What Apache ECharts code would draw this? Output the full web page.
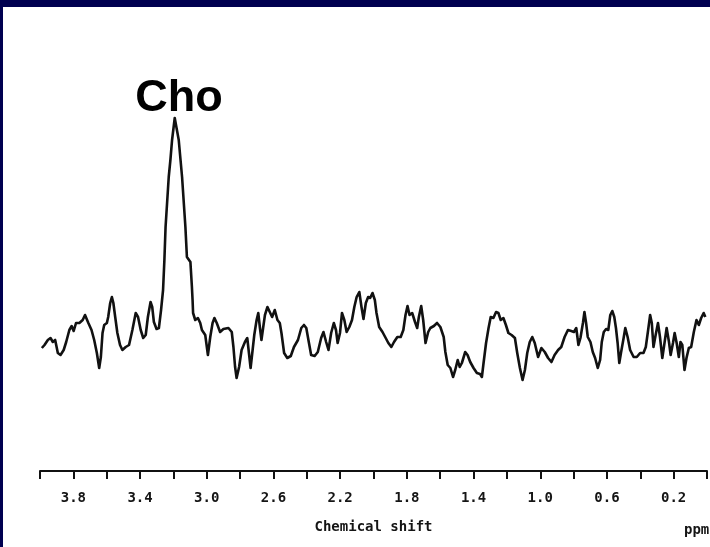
<!DOCTYPE html>
<html>
<head>
<meta charset="utf-8">
<script src="https://cdn.jsdelivr.net/npm/echarts@6/dist/echarts.min.js"></script>
<style>
  html, body { margin: 0; padding: 0; background: #ffffff; }
  #chart { width: 710px; height: 547px; }
</style>
</head>
<body>
<div id="chart"></div>
<script>
// Proton MR spectrum: chemical shift (ppm) vs. signal intensity (a.u.)
const shiftPpm = [
  3.989, 3.973, 3.953, 3.937, 3.923, 3.909, 3.893, 3.877, 3.858, 3.843,
  3.824, 3.810, 3.798, 3.784, 3.764, 3.744, 3.730, 3.710, 3.691, 3.675,
  3.659, 3.645, 3.635, 3.625, 3.615, 3.599, 3.591, 3.579, 3.569, 3.560,
  3.549, 3.536, 3.520, 3.506, 3.486, 3.466, 3.446, 3.426, 3.412, 3.396,
  3.381, 3.366, 3.353, 3.337, 3.327, 3.317, 3.301, 3.287, 3.274, 3.262,
  3.254, 3.247, 3.228, 3.218, 3.208, 3.192, 3.185, 3.168, 3.148, 3.128,
  3.119, 3.098, 3.089, 3.085, 3.082, 3.069, 3.053, 3.039, 3.029, 3.009,
  2.993, 2.979, 2.965, 2.954, 2.940, 2.920, 2.900, 2.870, 2.850, 2.840,
  2.830, 2.821, 2.806, 2.791, 2.771, 2.757, 2.747, 2.737, 2.727, 2.715,
  2.701, 2.691, 2.681, 2.672, 2.662, 2.651, 2.636, 2.622, 2.608, 2.592,
  2.576, 2.562, 2.552, 2.536, 2.517, 2.496, 2.477, 2.453, 2.433, 2.417,
  2.403, 2.387, 2.374, 2.353, 2.334, 2.314, 2.300, 2.284, 2.270, 2.254,
  2.238, 2.225, 2.215, 2.201, 2.189, 2.175, 2.161, 2.145, 2.129, 2.115,
  2.101, 2.085, 2.072, 2.060, 2.046, 2.032, 2.020, 2.006, 1.992, 1.982,
  1.966, 1.946, 1.930, 1.911, 1.893, 1.877, 1.857, 1.837, 1.821, 1.808,
  1.796, 1.784, 1.768, 1.751, 1.738, 1.728, 1.714, 1.702, 1.688, 1.672,
  1.659, 1.638, 1.619, 1.599, 1.579, 1.569, 1.555, 1.539, 1.523, 1.510,
  1.495, 1.483, 1.470, 1.450, 1.436, 1.420, 1.400, 1.380, 1.361, 1.350,
  1.340, 1.325, 1.310, 1.297, 1.281, 1.265, 1.251, 1.237, 1.221, 1.206,
  1.191, 1.172, 1.152, 1.138, 1.122, 1.106, 1.092, 1.078, 1.063, 1.048,
  1.033, 1.013, 0.993, 0.973, 0.953, 0.933, 0.914, 0.893, 0.874, 0.854,
  0.834, 0.814, 0.798, 0.784, 0.771, 0.759, 0.744, 0.735, 0.725, 0.715,
  0.699, 0.685, 0.671, 0.655, 0.641, 0.631, 0.619, 0.605, 0.592, 0.580,
  0.568, 0.556, 0.546, 0.536, 0.526, 0.516, 0.500, 0.490, 0.476, 0.461,
  0.440, 0.421, 0.401, 0.381, 0.367, 0.353, 0.341, 0.331, 0.321, 0.308,
  0.294, 0.282, 0.268, 0.254, 0.242, 0.228, 0.218, 0.204, 0.194, 0.182,
  0.169, 0.159, 0.148, 0.135, 0.123, 0.109, 0.095, 0.079, 0.063, 0.049,
  0.035, 0.020, 0.010
];

const intensity = [
  123, 126, 131, 133, 129, 131, 118, 116, 121, 129,
  141, 145, 140, 148, 148, 151, 156, 148, 141, 131,
  118, 103, 114, 138, 146, 148, 154, 168, 174, 168,
  154, 138, 126, 121, 124, 126, 141, 158, 154, 141,
  133, 136, 154, 169, 164, 149, 142, 143, 161, 181,
  211, 244, 294, 311, 331, 353, 355, 331, 294, 244,
  214, 209, 184, 171, 158, 151, 153, 148, 141, 136,
  116, 134, 148, 153, 148, 139, 142, 143, 139, 124,
  104, 93, 104, 121, 129, 133, 118, 103, 118, 136,
  151, 158, 143, 131, 143, 156, 164, 159, 154, 161,
  151, 148, 138, 118, 113, 115, 124, 131, 143, 146,
  143, 128, 116, 115, 119, 133, 139, 129, 121, 138,
  148, 141, 128, 138, 158, 151, 139, 144, 151, 164,
  174, 179, 164, 152, 168, 174, 173, 178, 171, 158,
  144, 139, 134, 128, 124, 129, 134, 134, 141, 156,
  165, 156, 158, 149, 143, 154, 165, 151, 128, 139,
  143, 145, 148, 144, 134, 119, 106, 103, 94, 101,
  111, 104, 108, 119, 116, 109, 103, 98, 97, 94,
  108, 128, 143, 154, 153, 159, 158, 151, 153, 146,
  138, 136, 133, 118, 103, 91, 101, 118, 129, 134,
  128, 114, 123, 119, 113, 109, 116, 121, 124, 134,
  141, 140, 139, 143, 126, 133, 148, 159, 148, 134,
  129, 119, 113, 103, 111, 129, 139, 142, 141, 156,
  160, 154, 143, 128, 108, 118, 133, 143, 134, 121,
  114, 114, 118, 118, 124, 141, 156, 148, 124, 136,
  148, 134, 113, 129, 143, 129, 116, 128, 138, 128,
  114, 129, 126, 101, 113, 123, 124, 139, 151, 146,
  153, 158, 154
];

// Axis ticks every 0.2 ppm, labels every 0.4 ppm starting at 3.8
const tickStep = 0.2;
const axisName = 'Chemical shift';
const unitText = 'ppm';
const peakName = 'Cho';

const monoFont = '"DejaVu Sans Mono", "Liberation Mono", monospace';

let peakIdx = 0;
intensity.forEach((v, i) => { if (v > intensity[peakIdx]) peakIdx = i; });

const chart = echarts.init(document.getElementById('chart'), null, { renderer: 'canvas' });

chart.setOption({
  animation: false,
  backgroundColor: '#ffffff',
  grid: { left: 40, right: -2, top: 111, bottom: 76 },
  xAxis: {
    type: 'value',
    min: 0,
    max: 4,
    interval: tickStep,
    inverse: true,
    name: axisName,
    nameLocation: 'middle',
    nameGap: 49,
    nameTextStyle: { fontFamily: monoFont, fontWeight: 'bold', fontSize: 14, color: '#151515' },
    axisLine: { show: true, lineStyle: { color: '#111111', width: 2 } },
    axisTick: { show: true, length: 8, lineStyle: { color: '#111111', width: 2 } },
    splitLine: { show: false },
    axisLabel: {
      margin: 20,
      fontFamily: monoFont,
      fontWeight: 'bold',
      fontSize: 14,
      color: '#151515',
      formatter: function (v) {
        const k = Math.round(v / tickStep);
        return (k % 2 === 1) ? (k * tickStep).toFixed(1) : '';
      }
    }
  },
  yAxis: { type: 'value', min: 0, max: 360, show: false },
  series: [{
    type: 'line',
    data: shiftPpm.map((s, i) => [s, intensity[i]]),
    showSymbol: false,
    smooth: false,
    lineStyle: { color: '#111111', width: 2.6, join: 'round' },
    markPoint: {
      symbol: 'circle',
      symbolSize: 1,
      itemStyle: { color: 'rgba(0,0,0,0)' },
      label: {
        show: true,
        position: 'top',
        distance: 0,
        offset: [3, 6],
        formatter: peakName,
        fontFamily: '"Liberation Sans", Arial, sans-serif',
        fontWeight: 'bold',
        fontSize: 45,
        color: '#000000'
      },
      data: [{ coord: [shiftPpm[peakIdx], intensity[peakIdx]] }]
    }
  }],
  graphic: [
    { type: 'rect', shape: { x: 0, y: 0, width: 710, height: 7 }, style: { fill: '#000050' }, z: 100 },
    { type: 'rect', shape: { x: 0, y: 0, width: 3, height: 547 }, style: { fill: '#000050' }, z: 100 },
    {
      type: 'text', left: 684, top: 523, z: 100,
      style: { text: unitText, font: 'bold 14px ' + monoFont, fill: '#151515' }
    }
  ]
});
</script>
</body>
</html>
